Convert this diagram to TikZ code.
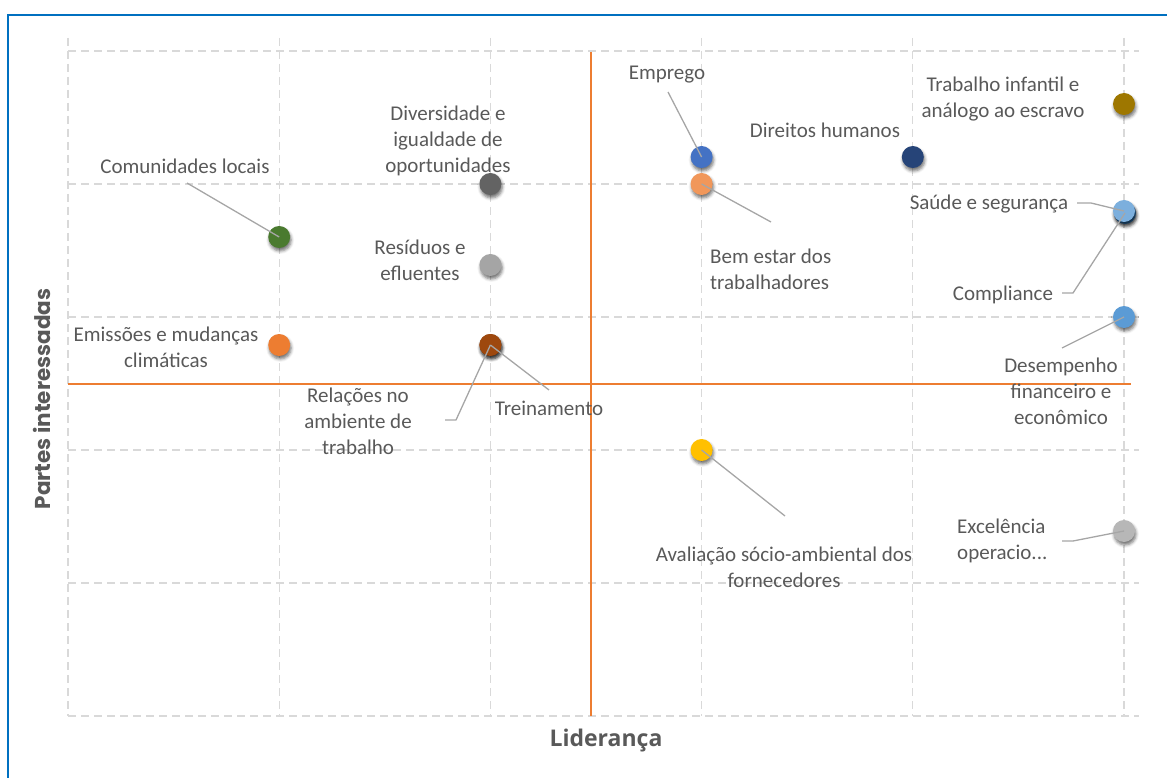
\documentclass[tikz,border=0pt]{standalone}
\usepackage{fontspec}
\setmainfont{Carlito}
\newfontfamily\ttlfont{Open Sans}
\newfontfamily\popfont{Poppins}
\usetikzlibrary{shadows.blur}
\definecolor{frameblue}{HTML}{0070C0}
\definecolor{gridgray}{HTML}{D9D9D9}
\definecolor{txtgray}{HTML}{595959}
\definecolor{leadgray}{HTML}{A6A6A6}
\definecolor{qorange}{HTML}{ED7D31}
\definecolor{cgreen}{HTML}{4A7A2F}
\definecolor{cdgray}{HTML}{636363}
\definecolor{clgray}{HTML}{A5A5A5}
\definecolor{corange}{HTML}{ED7D31}
\definecolor{cbrown}{HTML}{9E480E}
\definecolor{cblue}{HTML}{4472C4}
\definecolor{clorange}{HTML}{F1975A}
\definecolor{cnavy}{HTML}{264478}
\definecolor{cgold}{HTML}{9E7700}
\definecolor{clblue}{HTML}{7CAFDD}
\definecolor{cdblue}{HTML}{255E91}
\definecolor{cmblue}{HTML}{5B9BD5}
\definecolor{cyellow}{HTML}{FFC000}
\definecolor{csilver}{HTML}{B7B7B7}
\begin{document}
\begin{tikzpicture}[x=1pt,y=-1pt,
  gridline/.style={draw=gridgray, line width=1.3pt, dash pattern=on 8pt off 5pt},
  quad/.style={draw=qorange, line width=1.4pt},
  dot/.style={circle, minimum size=22pt, inner sep=0pt, fill=#1,
    blur shadow={shadow xshift=1pt, shadow yshift=-3pt, shadow opacity=55, shadow blur radius=3pt}},
  lbl/.style={font=\fontsize{21}{26}\selectfont, text=txtgray, align=center, inner sep=0pt},
  lbll/.style={lbl, align=left},
  leader/.style={draw=leadgray, line width=1.3pt}]
\useasboundingbox (0,0) rectangle (1167,778);
% frame
\draw[frameblue, line width=2.5pt] (8,778) -- (8,15) -- (1167,15);
% grid
\foreach \x in {68,279.2,490.4,701.6,912.8,1124} \draw[gridline] (\x,38) -- (\x,716);
\foreach \y in {51,184,317,450,583,716} \draw[gridline] (68,\y) -- (1139,\y);
% quadrant lines
\draw[quad] (591,52) -- (591,716);
\draw[quad] (68,384) -- (1131,384);
% dots
\node[dot=cgreen] (dCom) at (279.2,237) {};
\node[dot=cdgray] (dDiv) at (490.4,184) {};
\node[dot=clgray] (dRes) at (490.4,265) {};
\node[dot=corange] (dEmi) at (279.2,345) {};
\node[dot=cbrown] (dRel) at (490.4,345) {};
\node[dot=cbrown] (dTre) at (490.4,345) {};
\node[dot=cblue] (dEmp) at (701.6,157) {};
\node[dot=clorange] (dBem) at (701.6,184) {};
\node[dot=cnavy] (dDir) at (912.8,157) {};
\node[dot=cgold] (dTra) at (1124,104) {};
\node[dot=cdblue] (dCmp) at (1125,213) {};
\node[dot=clblue] (dSau) at (1124,211) {};
\node[dot=cmblue] (dDes) at (1124,317) {};
\node[dot=cyellow] (dAva) at (701.6,450) {};
\node[dot=csilver] (dExc) at (1124,531) {};
% labels
\node[lbl] (lCom) at (185,166) {Comunidades locais};
\node[lbl] (lDiv) at (448,141) {Diversidade e\\igualdade de\\oportunidades};
\node[lbl] (lRes) at (420,260) {Resíduos e\\efluentes};
\node[lbl] (lEmi) at (166,347) {Emissões e mudanças\\climáticas};
\node[lbl] (lRel) at (358,421) {Relações no\\ambiente de\\trabalho};
\node[lbl] (lTre) at (549,408) {Treinamento};
\node[lbl] (lEmp) at (667,75) {Emprego};
\node[lbl] (lDir) at (825,130) {Direitos humanos};
\node[lbl] (lTra) at (1003,99) {Trabalho infantil e\\análogo ao escravo};
\node[lbl] (lSau) at (989,204) {Saúde e segurança};
\node[lbl] (lCmp) at (1003,295) {Compliance};
\node[lbl] (lDes) at (1061,391) {Desempenho\\financeiro e\\econômico};
\node[lbl] (lAva) at (784,567) {Avaliação sócio-ambiental dos\\fornecedores};
\node[lbll, anchor=west] (lExc) at (957,541) {Excelência\\operacio...};
\node[lbll, anchor=west] (lBem) at (710,269) {Bem estar dos\\trabalhadores};
% leader start points
\coordinate (cCom) at (187,183);
\coordinate (cEmp) at (668,92);
\coordinate (cBem) at (771,222);
\coordinate (cSau) at (1077,203);
\coordinate (cSauB) at (1091,203);
\coordinate (cCmp) at (1062,293);
\coordinate (cCmpB) at (1073,293);
\coordinate (cDes) at (1062,348);
\coordinate (cAva) at (785,516);
\coordinate (cExc) at (1062,541);
\coordinate (cExcB) at (1073,541);
\coordinate (cRel) at (445,420);
\coordinate (cRelB) at (456,420);
\coordinate (cTre) at (549,390);
% leaders
\draw[leader] (cCom) -- (dCom.center);
\draw[leader] (cEmp) -- (dEmp.center);
\draw[leader] (dBem.center) -- (cBem);
\draw[leader] (cSau) -- (cSauB) -- (dSau.center);
\draw[leader] (cCmp) -- (cCmpB) -- (dCmp.center);
\draw[leader] (cDes) -- (dDes.center);
\draw[leader] (dAva.center) -- (cAva);
\draw[leader] (cExc) -- (cExcB) -- (dExc.center);
\draw[leader] (cRel) -- (cRelB) -- (dRel.center);
\draw[leader] (cTre) -- (dTre.center);
% axis titles
\node[font=\ttlfont\bfseries\fontsize{23}{28}\selectfont, text=txtgray, inner sep=0pt] (xt) at (606,741) {Liderança};
\node[font=\popfont\bfseries\fontsize{21.5}{26}\selectfont, text=txtgray, rotate=90, inner sep=0pt] (yt) at (42,399) {Partes interessadas};
\end{tikzpicture}
\end{document}
